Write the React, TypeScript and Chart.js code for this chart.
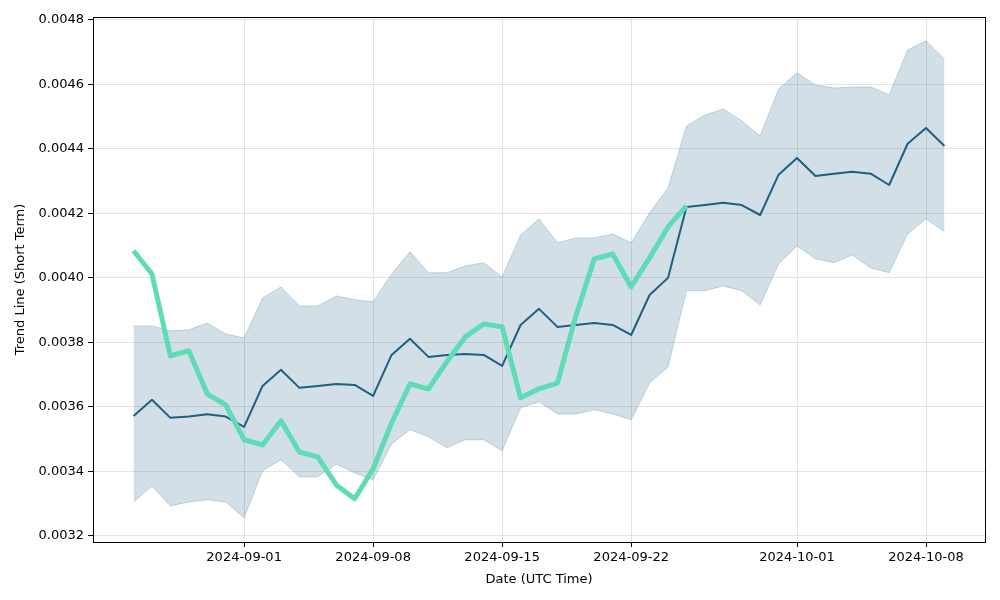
import React, { useEffect, useRef } from "react";
import { Chart, registerables } from "chart.js";

Chart.register(...registerables);

const dates = [
  "2024-08-26", "2024-08-27", "2024-08-28", "2024-08-29", "2024-08-30", "2024-08-31",
  "2024-09-01", "2024-09-02", "2024-09-03", "2024-09-04", "2024-09-05", "2024-09-06",
  "2024-09-07", "2024-09-08", "2024-09-09", "2024-09-10", "2024-09-11", "2024-09-12",
  "2024-09-13", "2024-09-14", "2024-09-15", "2024-09-16", "2024-09-17", "2024-09-18",
  "2024-09-19", "2024-09-20", "2024-09-21", "2024-09-22", "2024-09-23", "2024-09-24",
  "2024-09-25", "2024-09-26", "2024-09-27", "2024-09-28", "2024-09-29", "2024-09-30",
  "2024-10-01", "2024-10-02", "2024-10-03", "2024-10-04", "2024-10-05", "2024-10-06",
  "2024-10-07", "2024-10-08", "2024-10-09",
];

const trendMean = [
  0.003572, 0.003622, 0.003566, 0.00357, 0.003577, 0.00357,
  0.003538, 0.003665, 0.003715, 0.003659, 0.003665, 0.003671,
  0.003668, 0.003634, 0.003761, 0.003811, 0.003755, 0.003761,
  0.003764, 0.003761, 0.003727, 0.003854, 0.003904, 0.003848,
  0.003854, 0.00386, 0.003854, 0.003823, 0.003947, 0.0040,
  0.00422, 0.004226, 0.004233, 0.004226, 0.004195, 0.00432,
  0.004372, 0.004316, 0.004323, 0.004329, 0.004323, 0.004288,
  0.004416, 0.004465, 0.004409,
];

const bandUpper = [
  0.003851, 0.003851, 0.003836, 0.003839, 0.00386, 0.003826,
  0.003814, 0.003938, 0.003972, 0.003913, 0.003913, 0.003944,
  0.003932, 0.003926, 0.004012, 0.004081, 0.004016, 0.004016,
  0.004037, 0.004047, 0.004003, 0.004133, 0.004183, 0.004109,
  0.004124, 0.004124, 0.004136, 0.004109, 0.004202, 0.004279,
  0.004471, 0.004505, 0.004524, 0.004487, 0.00444, 0.004586,
  0.004636, 0.004598, 0.004589, 0.004592, 0.004592, 0.004568,
  0.004707, 0.004735, 0.004679,
];

const bandLower = [
  0.003305, 0.003355, 0.003293, 0.003305, 0.003312, 0.003305,
  0.003256, 0.003402, 0.003436, 0.003383, 0.003383, 0.003423,
  0.003395, 0.003374, 0.003485, 0.003529, 0.003507, 0.003473,
  0.003498, 0.003498, 0.003464, 0.003597, 0.003616, 0.003578,
  0.003578, 0.003591, 0.003578, 0.00356, 0.003674, 0.003724,
  0.00396, 0.00396, 0.003975, 0.00396, 0.003916, 0.004043,
  0.004099, 0.004059, 0.004047, 0.004071, 0.004031, 0.004016,
  0.004136, 0.004183, 0.004143,
];

const priceLine = [
  0.004084, 0.004012, 0.003758, 0.003774, 0.00364, 0.003606,
  0.003498, 0.003482, 0.003557, 0.00346, 0.003445, 0.003358,
  0.003315, 0.003408, 0.00355, 0.003671, 0.003656, 0.00374,
  0.003817, 0.003857, 0.003848, 0.003628, 0.003656, 0.003674,
  0.003882, 0.004059, 0.004074, 0.003972, 0.004062, 0.004158,
  0.004223,
];

const xTickDates = ["2024-09-01", "2024-09-08", "2024-09-15", "2024-09-22", "2024-10-01", "2024-10-08"];
const yTickValues = [0.0032, 0.0034, 0.0036, 0.0038, 0.004, 0.0042, 0.0044, 0.0046, 0.0048];

const DAY = 86400000;
const t0 = Date.parse(dates[0]);
const dayOf = (d: string) => (Date.parse(d) - t0) / DAY;
const labelOf = (v: number) => new Date(t0 + Math.round(v) * DAY).toISOString().slice(0, 10);

const toPoints = (arr: number[]) => arr.map((y, i) => ({ x: dayOf(dates[i]), y }));

const FONT = "'DejaVu Sans', sans-serif";

export default function App() {
  const ref = useRef<HTMLCanvasElement | null>(null);
  useEffect(() => {
    if (!ref.current) return;
    const span = dayOf(dates[dates.length - 1]);
    const frame = {
      id: "frame",
      afterDraw(chart: any) {
        const { ctx, chartArea: a } = chart;
        ctx.save();
        ctx.strokeStyle = "#000";
        ctx.lineWidth = 1;
        ctx.strokeRect(Math.round(a.left) + 0.5, Math.round(a.top) + 0.5, Math.round(a.right - a.left), Math.round(a.bottom - a.top));
        ctx.restore();
      },
    };
    const chart = new Chart(ref.current, {
      type: "line",
      data: {
        datasets: [
          {
            data: toPoints(priceLine),
            borderColor: "#5fdcb5",
            borderWidth: 5,
            borderJoinStyle: "round",
            pointRadius: 0,
            fill: false,
            tension: 0,
          },
          {
            data: toPoints(trendMean),
            borderColor: "#1f5f80",
            borderWidth: 2,
            borderJoinStyle: "round",
            pointRadius: 0,
            fill: false,
            tension: 0,
          },
          {
            data: toPoints(bandUpper),
            borderColor: "rgba(31,95,128,0.22)",
            backgroundColor: "rgba(31,95,128,0.2)",
            borderWidth: 1,
            pointRadius: 0,
            fill: "+1",
            tension: 0,
          },
          {
            data: toPoints(bandLower),
            borderColor: "rgba(31,95,128,0.22)",
            borderWidth: 1,
            pointRadius: 0,
            fill: false,
            tension: 0,
          },
        ],
      },
      options: {
        animation: false,
        responsive: false,
        maintainAspectRatio: false,
        layout: { padding: { top: 17, right: 15, left: 0, bottom: 0 } },
        plugins: { legend: { display: false }, tooltip: { enabled: false } },
        scales: {
          x: {
            type: "linear",
            min: -span * 0.05,
            max: span * 1.05,
            afterFit: (s: any) => { s.height = 58; },
            afterBuildTicks: (s: any) => { s.ticks = xTickDates.map((d) => ({ value: dayOf(d) })); },
            ticks: {
              callback: (v: any) => labelOf(Number(v)),
              color: "#000",
              font: { family: FONT, size: 13 },
              padding: 3,
              maxRotation: 0,
              autoSkip: false,
            },
            grid: { color: "rgba(0,0,0,0.11)", tickColor: "#000", tickLength: 5, drawTicks: true },
            border: { color: "#000" },
            title: {
              display: true,
              text: "Date (UTC Time)",
              color: "#000",
              font: { family: FONT, size: 13 },
              padding: { top: 0, bottom: 13 },
            },
          },
          y: {
            type: "linear",
            min: 0.003181,
            max: 0.004809,
            afterFit: (s: any) => { s.width = 93; },
            afterBuildTicks: (s: any) => { s.ticks = yTickValues.map((v) => ({ value: v })); },
            ticks: {
              callback: (v: any) => Number(v).toFixed(4),
              color: "#000",
              font: { family: FONT, size: 13 },
              padding: 4,
            },
            grid: { color: "rgba(0,0,0,0.11)", tickColor: "#000", tickLength: 5, drawTicks: true },
            border: { color: "#000" },
            title: {
              display: true,
              text: "Trend Line (Short Term)",
              color: "#000",
              font: { family: FONT, size: 13 },
              padding: { top: 13, bottom: 0 },
            },
          },
        },
      },
      plugins: [frame],
    } as any);
    return () => chart.destroy();
  }, []);
  return (
    <div style={{ position: "absolute", left: 0, top: 0, width: 1000, height: 600, background: "#fff" }}>
      <canvas ref={ref} width={1000} height={600} style={{ width: 1000, height: 600 }} />
    </div>
  );
}
